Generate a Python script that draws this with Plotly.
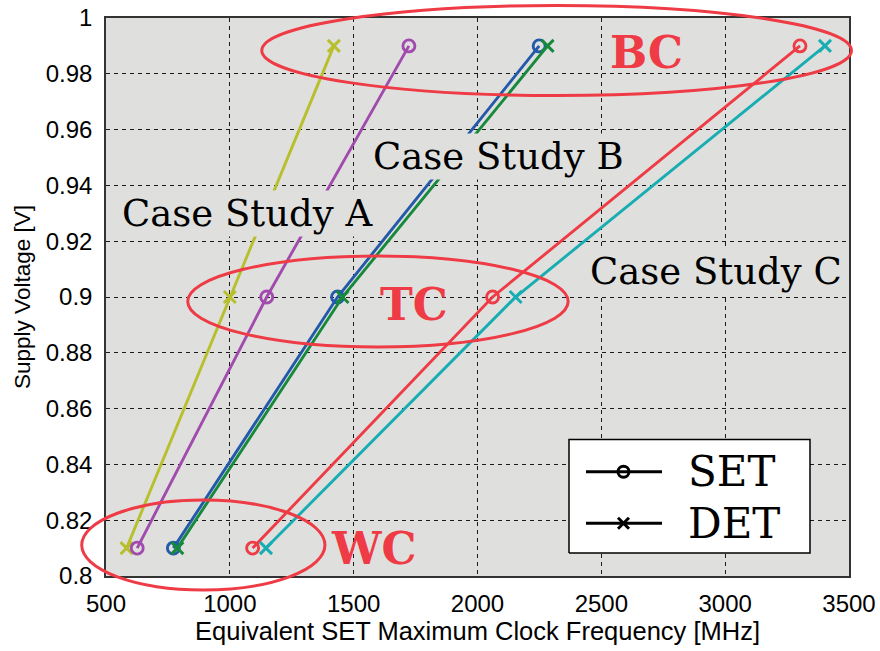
import plotly.graph_objects as go

# Supply voltage operating points (worst / typical / best corner)
voltage = [0.81, 0.90, 0.99]

# Equivalent SET maximum clock frequency [MHz] per case study and flip-flop style
freq_a_det = [583, 1000, 1420]
freq_a_set = [626, 1149, 1723]
freq_b_set = [772, 1435, 2249]
freq_b_det = [788, 1455, 2283]
freq_c_set = [1092, 2061, 3302]
freq_c_det = [1146, 2154, 3403]

x_ticks = [500, 1000, 1500, 2000, 2500, 3000, 3500]
y_ticks = [0.8, 0.82, 0.84, 0.86, 0.88, 0.9, 0.92, 0.94, 0.96, 0.98, 1.0]
y_tick_text = ["0.8", "0.82", "0.84", "0.86", "0.88", "0.9", "0.92", "0.94", "0.96", "0.98", "1"]

X_RANGE = (500, 3500)
Y_RANGE = (0.8, 1.0)

series = [
    (freq_a_det, "x-thin-open", "#b8bf2c"),
    (freq_a_set, "circle-open", "#a24bae"),
    (freq_b_set, "circle-open", "#2459aa"),
    (freq_b_det, "x-thin-open", "#17893c"),
    (freq_c_set, "circle-open", "#ee3b45"),
    (freq_c_det, "x-thin-open", "#17adb2"),
]

PLOT_BG = "#dfe0dd"
RED = "#ee3b45"
SERIF = "DejaVu Serif"
SANS = "Liberation Sans"

# Figure geometry (pixels)
W, H = 880, 651
M_L, M_R, M_T, M_B = 106, 31, 18, 75
PW, PH = W - M_L - M_R, H - M_T - M_B

fig = go.Figure()

for freqs, symbol, color in series:
    fig.add_trace(go.Scatter(
        x=freqs, y=voltage, mode="lines+markers",
        line=dict(color=color, width=2.9),
        marker=dict(symbol=symbol, size=12, color=color,
                    line=dict(color=color, width=2.9)),
        showlegend=False, hoverinfo="skip",
    ))


def to_paper(x, y):
    """Convert data coordinates to paper fractions of the plot area."""
    px = (x - X_RANGE[0]) / (X_RANGE[1] - X_RANGE[0])
    py = (y - Y_RANGE[0]) / (Y_RANGE[1] - Y_RANGE[0])
    return px, py


def pix(px, py):
    """Convert a page pixel position to paper fractions of the plot area."""
    return (px - M_L) / PW, (H - M_B - py) / PH


# Corner groupings (ellipses may extend past the plot frame)
corners = [
    (1129, 3510, 0.9722, 1.0045),   # best corner
    (830, 2366, 0.8821, 0.9147),    # typical corner
    (402, 1384, 0.7950, 0.8272),    # worst corner
]
shapes = []
for x0, x1, y0, y1 in corners:
    px0, py0 = to_paper(x0, y0)
    px1, py1 = to_paper(x1, y1)
    shapes.append(dict(type="circle", xref="paper", yref="paper",
                       x0=px0, x1=px1, y0=py0, y1=py1,
                       line=dict(color=RED, width=3), layer="above"))

# Hand-built legend, drawn on an overlay axis spanning the plot area
bx0, by0 = pix(569, 553)
bx1, by1 = pix(810, 439.5)
fig.add_trace(go.Scatter(
    x=[bx0, bx1, bx1, bx0, bx0], y=[by0, by0, by1, by1, by0],
    xaxis="x2", yaxis="y2", mode="lines", fill="toself", fillcolor="white",
    line=dict(color="black", width=1.5), showlegend=False, hoverinfo="skip",
))
legend_rows = [("SET", "circle-open", 471.7), ("DET", "x-thin-open", 523.3)]
annotations = []
for label, symbol, row_y in legend_rows:
    lx0, ly = pix(586, row_y)
    lx1, _ = pix(662, row_y)
    mx, _ = pix(623.5, row_y)
    tx, _ = pix(686, row_y)
    fig.add_trace(go.Scatter(
        x=[lx0, lx1], y=[ly, ly], xaxis="x2", yaxis="y2", mode="lines",
        line=dict(color="black", width=3), showlegend=False, hoverinfo="skip",
    ))
    fig.add_trace(go.Scatter(
        x=[mx], y=[ly], xaxis="x2", yaxis="y2", mode="markers",
        marker=dict(symbol=symbol, size=11, color="black",
                    line=dict(color="black", width=3)),
        showlegend=False, hoverinfo="skip",
    ))
    annotations.append(dict(xref="paper", yref="paper", x=tx, y=ly,
                            text=label, showarrow=False, xanchor="left",
                            yanchor="middle",
                            font=dict(family=SERIF, size=42, color="black")))

# Case study labels (drawn on a plot-coloured box so lines pass behind)
case_labels = [
    ("Case Study A", 247, 212),
    ("Case Study B", 498, 155),
    ("Case Study C", 716, 270),
]
for text, cx, cy in case_labels:
    ax, ay = pix(cx, cy + 1)
    annotations.append(dict(xref="paper", yref="paper", x=ax, y=ay,
                            text=text, showarrow=False, xanchor="center",
                            yanchor="middle", bgcolor=PLOT_BG,
                            font=dict(family=SERIF, size=37, color="black")))

corner_labels = [
    ("BC", 646.7, 49.2),
    ("TC", 414.0, 301.7),
    ("WC", 373.0, 545.0),
]
for text, cx, cy in corner_labels:
    ax, ay = pix(cx, cy + 3)
    annotations.append(dict(xref="paper", yref="paper", x=ax, y=ay,
                            text="<b>%s</b>" % text, showarrow=False,
                            xanchor="center", yanchor="middle",
                            font=dict(family=SERIF, size=44, color=RED)))

grid = dict(showgrid=True, gridcolor="#1a1a1a", gridwidth=1, griddash="4px,4px")

fig.update_layout(
    width=W, height=H,
    margin=dict(l=M_L, r=M_R, t=M_T, b=M_B),
    paper_bgcolor="white", plot_bgcolor=PLOT_BG,
    showlegend=False,
    shapes=shapes, annotations=annotations,
    xaxis=dict(range=list(X_RANGE), tickvals=x_ticks, zeroline=False,
               automargin=False,
               showline=True, linecolor="#333333", linewidth=1.5, mirror=True,
               ticks="", ticklabelstandoff=5,
               tickfont=dict(family=SANS, size=24, color="black"),
               title=dict(text="Equivalent SET Maximum Clock Frequency [MHz]",
                          font=dict(family=SANS, size=25.5, color="black"),
                          standoff=4),
               **grid),
    yaxis=dict(range=list(Y_RANGE), tickvals=y_ticks, ticktext=y_tick_text,
               zeroline=False, automargin=False,
               showline=True, linecolor="#333333",
               linewidth=1.5, mirror=True, ticks="", ticklabelstandoff=7,
               tickfont=dict(family=SANS, size=24, color="black"),
               title=dict(text="Supply Voltage [V]",
                          font=dict(family=SANS, size=22.5, color="black"),
                          standoff=9),
               **grid),
    xaxis2=dict(range=[0, 1], overlaying="x", visible=False, fixedrange=True),
    yaxis2=dict(range=[0, 1], overlaying="y", visible=False, fixedrange=True),
)

fig.write_html("out.html")
